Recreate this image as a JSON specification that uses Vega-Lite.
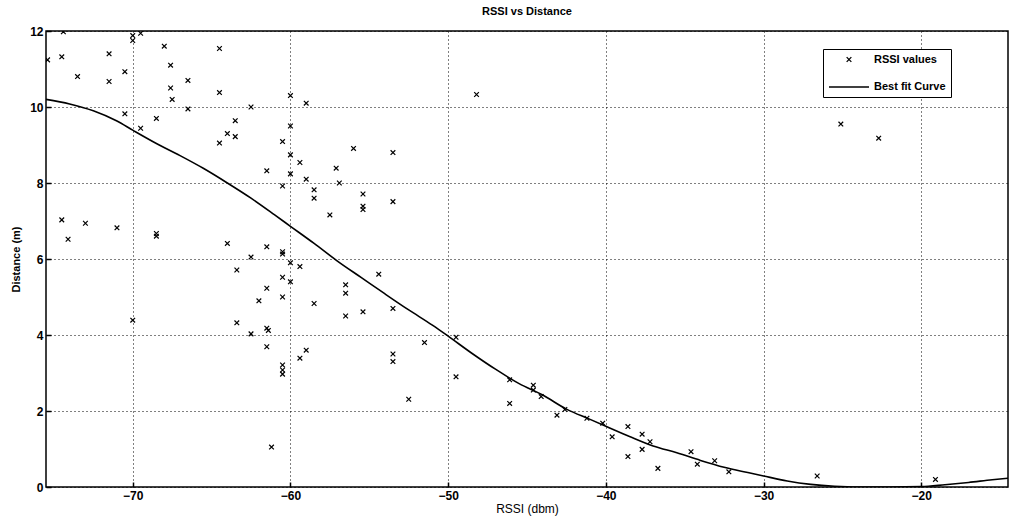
{
  "$schema": "https://vega.github.io/schema/vega-lite/v6.json",
  "width": 962,
  "height": 456,
  "autosize": {"type": "none"},
  "padding": {"left": 46, "top": 31, "right": 2, "bottom": 39},
  "background": "white",
  "title": {"text": "RSSI vs Distance", "fontSize": 11, "font": "Liberation Sans Narrow, Liberation Sans, Arial", "fontWeight": "bold", "color": "black", "offset": 8},
  "config": {
    "view": {"stroke": "black", "strokeWidth": 1.5},
    "axis": {
      "labelFont": "Liberation Sans Narrow, Liberation Sans, Arial",
      "titleFont": "Liberation Sans Narrow, Liberation Sans, Arial",
      "labelColor": "black", "titleColor": "black",
      "labelFontSize": 12, "labelFontWeight": "bold",
      "titleFontSize": 12,
      "domain": false,
      "tickColor": "black", "tickSize": -5, "tickWidth": 1.5,
      "gridColor": "black", "gridDash": [1, 3], "gridOpacity": 1, "gridWidth": 1
    }
  },
  "datasets": {
    "curve": [
      {"rssi": -75.5, "dist": 10.2}, {"rssi": -74, "dist": 10.08}, {"rssi": -72.5, "dist": 9.9},
      {"rssi": -71, "dist": 9.63}, {"rssi": -70, "dist": 9.39}, {"rssi": -68.5, "dist": 9.04},
      {"rssi": -67, "dist": 8.72}, {"rssi": -65.5, "dist": 8.38}, {"rssi": -64, "dist": 8.0},
      {"rssi": -62.5, "dist": 7.6}, {"rssi": -61, "dist": 7.16}, {"rssi": -60, "dist": 6.86},
      {"rssi": -58.5, "dist": 6.41}, {"rssi": -57, "dist": 5.94}, {"rssi": -55.5, "dist": 5.51},
      {"rssi": -54, "dist": 5.08}, {"rssi": -52.5, "dist": 4.66}, {"rssi": -51, "dist": 4.26},
      {"rssi": -50, "dist": 3.97}, {"rssi": -48.5, "dist": 3.52}, {"rssi": -47, "dist": 3.1},
      {"rssi": -45.5, "dist": 2.72}, {"rssi": -44, "dist": 2.42}, {"rssi": -42.5, "dist": 2.05},
      {"rssi": -41, "dist": 1.78}, {"rssi": -40, "dist": 1.6}, {"rssi": -38.5, "dist": 1.33},
      {"rssi": -37, "dist": 1.08}, {"rssi": -35.5, "dist": 0.9}, {"rssi": -34, "dist": 0.7},
      {"rssi": -32.5, "dist": 0.52}, {"rssi": -31, "dist": 0.38}, {"rssi": -30, "dist": 0.29},
      {"rssi": -28.5, "dist": 0.16}, {"rssi": -27, "dist": 0.07}, {"rssi": -25.5, "dist": 0.02},
      {"rssi": -24, "dist": 0.0}, {"rssi": -22, "dist": 0.0}, {"rssi": -20, "dist": 0.01},
      {"rssi": -18.5, "dist": 0.06}, {"rssi": -17, "dist": 0.12}, {"rssi": -15.5, "dist": 0.19},
      {"rssi": -14.5, "dist": 0.23}
    ],
    "points": [
      {"rssi": -75.4, "dist": 11.24}, {"rssi": -74.5, "dist": 11.32}, {"rssi": -74.4, "dist": 11.98},
      {"rssi": -73.5, "dist": 10.8}, {"rssi": -71.5, "dist": 11.4}, {"rssi": -71.5, "dist": 10.67},
      {"rssi": -70.5, "dist": 10.93}, {"rssi": -70.5, "dist": 9.82}, {"rssi": -70, "dist": 11.75},
      {"rssi": -70, "dist": 11.88}, {"rssi": -69.5, "dist": 11.94}, {"rssi": -69.5, "dist": 9.44},
      {"rssi": -68.5, "dist": 9.7}, {"rssi": -68, "dist": 11.6}, {"rssi": -67.6, "dist": 11.1},
      {"rssi": -67.6, "dist": 10.5}, {"rssi": -67.5, "dist": 10.2}, {"rssi": -66.5, "dist": 10.7},
      {"rssi": -66.5, "dist": 9.95}, {"rssi": -64.5, "dist": 11.54}, {"rssi": -64.5, "dist": 10.38},
      {"rssi": -64.5, "dist": 9.05}, {"rssi": -64, "dist": 9.3}, {"rssi": -63.5, "dist": 9.64},
      {"rssi": -63.5, "dist": 9.22}, {"rssi": -62.5, "dist": 10.0}, {"rssi": -61.5, "dist": 8.32},
      {"rssi": -60.5, "dist": 9.09}, {"rssi": -60.5, "dist": 7.92}, {"rssi": -60, "dist": 10.3},
      {"rssi": -60, "dist": 9.5}, {"rssi": -60, "dist": 8.74}, {"rssi": -60, "dist": 8.24},
      {"rssi": -59.4, "dist": 8.54}, {"rssi": -59, "dist": 10.1}, {"rssi": -59, "dist": 8.1},
      {"rssi": -58.5, "dist": 7.82}, {"rssi": -58.5, "dist": 7.6}, {"rssi": -57.5, "dist": 7.16},
      {"rssi": -57.1, "dist": 8.39}, {"rssi": -56.9, "dist": 8.0}, {"rssi": -56.0, "dist": 8.91},
      {"rssi": -53.5, "dist": 8.8}, {"rssi": -55.4, "dist": 7.71}, {"rssi": -55.4, "dist": 7.39},
      {"rssi": -55.4, "dist": 7.3}, {"rssi": -53.5, "dist": 7.51}, {"rssi": -48.2, "dist": 10.33},
      {"rssi": -74.5, "dist": 7.03}, {"rssi": -74.1, "dist": 6.52}, {"rssi": -73, "dist": 6.94},
      {"rssi": -71, "dist": 6.82}, {"rssi": -68.5, "dist": 6.67}, {"rssi": -68.5, "dist": 6.6},
      {"rssi": -64, "dist": 6.41}, {"rssi": -61.5, "dist": 6.32}, {"rssi": -60.5, "dist": 6.19},
      {"rssi": -62.5, "dist": 6.05}, {"rssi": -60.5, "dist": 6.13}, {"rssi": -60, "dist": 5.9},
      {"rssi": -59.4, "dist": 5.8}, {"rssi": -63.4, "dist": 5.71}, {"rssi": -60.5, "dist": 5.52},
      {"rssi": -60, "dist": 5.4}, {"rssi": -61.5, "dist": 5.23}, {"rssi": -62, "dist": 4.9},
      {"rssi": -60.5, "dist": 5.0}, {"rssi": -58.5, "dist": 4.83}, {"rssi": -70, "dist": 4.39},
      {"rssi": -63.4, "dist": 4.32}, {"rssi": -61.5, "dist": 4.18}, {"rssi": -61.4, "dist": 4.12},
      {"rssi": -62.5, "dist": 4.03}, {"rssi": -61.5, "dist": 3.69}, {"rssi": -59, "dist": 3.6},
      {"rssi": -59.4, "dist": 3.39}, {"rssi": -60.5, "dist": 3.21}, {"rssi": -60.5, "dist": 3.08},
      {"rssi": -60.5, "dist": 2.97}, {"rssi": -61.2, "dist": 1.05},
      {"rssi": -54.4, "dist": 5.6}, {"rssi": -56.5, "dist": 5.32}, {"rssi": -56.5, "dist": 5.1},
      {"rssi": -56.5, "dist": 4.5}, {"rssi": -55.4, "dist": 4.61}, {"rssi": -53.5, "dist": 4.7},
      {"rssi": -51.5, "dist": 3.8}, {"rssi": -53.5, "dist": 3.5}, {"rssi": -53.5, "dist": 3.3},
      {"rssi": -52.5, "dist": 2.31}, {"rssi": -49.5, "dist": 3.94}, {"rssi": -49.5, "dist": 2.9},
      {"rssi": -46.1, "dist": 2.82}, {"rssi": -46.1, "dist": 2.2}, {"rssi": -44.6, "dist": 2.68},
      {"rssi": -44.6, "dist": 2.55}, {"rssi": -44.1, "dist": 2.38}, {"rssi": -43.1, "dist": 1.89},
      {"rssi": -42.6, "dist": 2.04}, {"rssi": -41.2, "dist": 1.81}, {"rssi": -40.2, "dist": 1.68},
      {"rssi": -39.6, "dist": 1.32}, {"rssi": -38.6, "dist": 1.59}, {"rssi": -38.6, "dist": 0.8},
      {"rssi": -37.7, "dist": 1.39}, {"rssi": -37.7, "dist": 0.99}, {"rssi": -37.2, "dist": 1.19},
      {"rssi": -36.7, "dist": 0.49}, {"rssi": -34.6, "dist": 0.93}, {"rssi": -33.1, "dist": 0.69},
      {"rssi": -34.2, "dist": 0.6}, {"rssi": -32.2, "dist": 0.4}, {"rssi": -26.6, "dist": 0.29},
      {"rssi": -19.1, "dist": 0.2}, {"rssi": -25.1, "dist": 9.55}, {"rssi": -22.7, "dist": 9.18}
    ]
  },
  "encoding": {
    "x": {"field": "rssi", "type": "quantitative", "title": "RSSI (dbm)",
      "scale": {"domain": [-75.5, -14.5], "nice": false, "zero": false},
      "axis": {"values": [-70, -60, -50, -40, -30, -20], "grid": true, "titlePadding": 2, "labelPadding": 8, "titleFontWeight": "normal"}},
    "y": {"field": "dist", "type": "quantitative", "title": "Distance (m)",
      "scale": {"domain": [0, 12], "nice": false},
      "axis": {"values": [0, 2, 4, 6, 8, 10, 12], "grid": true, "labelPadding": 8, "titlePadding": 8, "titleFontWeight": "bold", "titleFontSize": 11}}
  },
  "layer": [
    {
      "data": {"name": "curve"},
      "mark": {"type": "line", "strokeWidth": 1.6, "clip": true, "interpolate": "monotone"},
      "encoding": {
        "color": {"datum": "Best fit Curve", "type": "nominal",
          "scale": {"domain": ["RSSI values", "Best fit Curve"], "range": ["black", "black"]},
          "legend": {"title": null, "orient": "none", "legendX": 777, "legendY": 18,
            "strokeColor": "black", "fillColor": "white", "padding": 5, "rowPadding": 1,
            "labelFont": "Liberation Sans Narrow, Liberation Sans, Arial", "labelFontSize": 11,
            "labelFontWeight": "bold", "labelColor": "black", "symbolStrokeWidth": 1.3}}
      }
    },
    {
      "data": {"name": "points"},
      "mark": {"type": "point", "filled": false, "strokeWidth": 1.2, "opacity": 1, "clip": true},
      "encoding": {
        "color": {"datum": "RSSI values", "type": "nominal"},
        "shape": {"datum": "RSSI values", "type": "nominal",
          "scale": {"domain": ["RSSI values", "Best fit Curve"], "range": ["M-1,-1L1,1M1,-1L-1,1", "stroke"]}},
        "size": {"datum": "RSSI values", "type": "nominal",
          "scale": {"domain": ["RSSI values", "Best fit Curve"], "range": [22, 1600]}}
      }
    }
  ]
}
